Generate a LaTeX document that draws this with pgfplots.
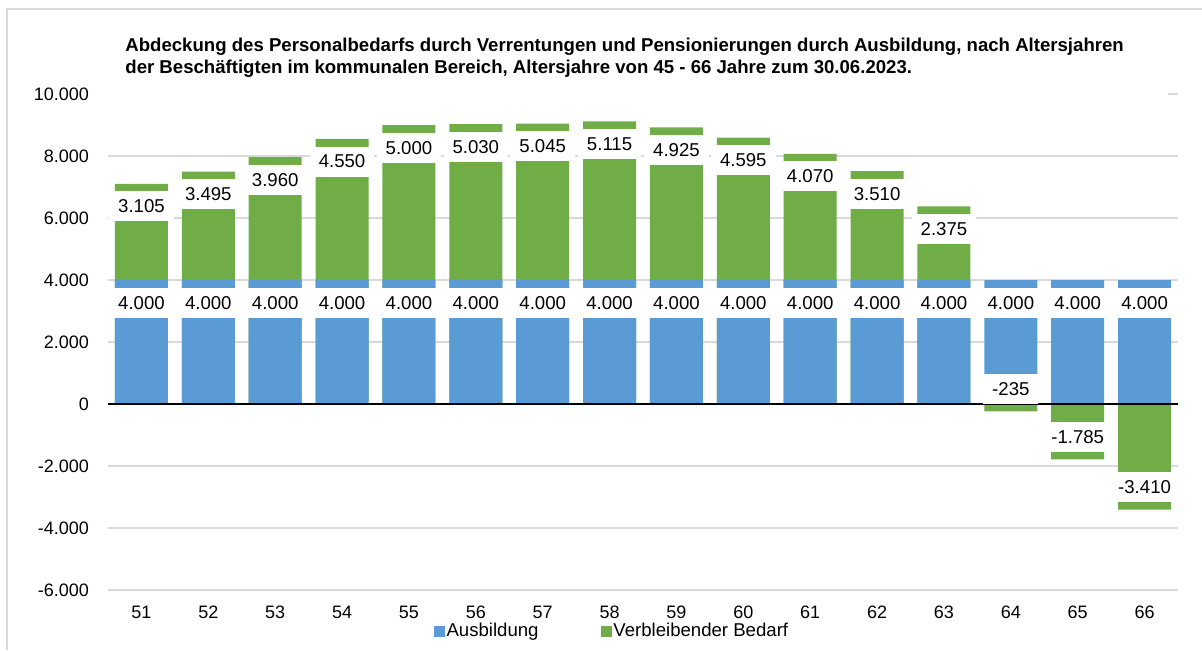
\documentclass[border=0pt]{standalone}
\usepackage{pgfplots}
\pgfplotsset{compat=1.18}
\usepackage{pgfplotstable}
\usepackage{fontspec}
\setmainfont{Liberation Sans}
\definecolor{bblue}{HTML}{5B9BD5}
\definecolor{bgreen}{HTML}{70AD47}
\definecolor{gridgray}{HTML}{D9D9D9}

% Altersjahr, Ausbildung, verbleibender Bedarf
\pgfplotstableread{
alter ausb bedarf
51 4000 3105
52 4000 3495
53 4000 3960
54 4000 4550
55 4000 5000
56 4000 5030
57 4000 5045
58 4000 5115
59 4000 4925
60 4000 4595
61 4000 4070
62 4000 3510
63 4000 2375
64 4000 -235
65 4000 -1785
66 4000 -3410
}\datatable

\begin{document}
\begin{tikzpicture}
  \useasboundingbox (0,0) rectangle (601pt,325pt);
  \draw[gridgray, line width=0.75pt] (3.5pt,0) -- (3.5pt,320.5pt) -- (601pt,320.5pt);
  \begin{axis}[
    at={(54pt,30pt)}, anchor=south west,
    scale only axis,
    width=535pt, height=248pt,
    xmin=50.5, xmax=66.5,
    ymin=-6000, ymax=10000,
    ybar, bar width=26.5pt, bar shift=0pt,
    axis line style={draw=none},
    major tick length=0pt,
    xtick={51,...,66},
    ytick={-6000,-4000,...,10000},
    yticklabels={-6.000,-4.000,-2.000,0,2.000,4.000,6.000,8.000,10.000},
    scaled y ticks=false,
    ymajorgrids,
    grid style={gridgray, line width=0.75pt},
    tick label style={font=\fontsize{9}{10}\selectfont},
    yticklabel style={xshift=-6pt},
    xticklabel style={yshift=-4.4pt},
    /pgf/number format/1000 sep={.},
    /pgf/number format/assume math mode=true,
    point meta=explicit,
    every node near coord/.append style={
      font=\fontsize{9.3}{10}\selectfont, fill=white, text=black,
      inner xsep=4.5pt, inner ysep=0pt, minimum height=15pt},
    legend columns=2,
    legend style={
      at={(0.471,-0.083)}, anchor=center, draw=none, fill=none,
      font=\fontsize{9.3}{10}\selectfont,
      nodes={inner xsep=1pt},
      /tikz/every even column/.append style={column sep=30pt}},
  ]
    \addlegendimage{legend image code/.code={\fill[bblue] (0pt,-2.5pt) rectangle (5pt,2.5pt);}}
    \addlegendentry{Ausbildung}
    \addlegendimage{legend image code/.code={\fill[bgreen] (0pt,-2.5pt) rectangle (5pt,2.5pt);}}
    \addlegendentry{Verbleibender Bedarf}

    % Verbleibender Bedarf (positiv), auf Ausbildung gestapelt
    \addplot[forget plot, fill=bgreen, draw=none,
      restrict x to domain=51:63,
      nodes near coords, every node near coord/.append style={yshift=-19pt}]
      table[x=alter, y expr=\thisrow{ausb}+\thisrow{bedarf}, meta=bedarf] {\datatable};
    % Ausbildung
    \addplot[forget plot, fill=bblue, draw=none,
      nodes near coords, every node near coord/.append style={yshift=-19pt}]
      table[x=alter, y=ausb, meta=ausb] {\datatable};
    % Verbleibender Bedarf (negativ)
    \addplot[forget plot, fill=bgreen, draw=none,
      restrict x to domain=64:66,
      nodes near coords, every node near coord/.append style={yshift=19pt}]
      table[x=alter, y=bedarf, meta=bedarf] {\datatable};

    \draw[black, line width=0.75pt] (axis cs:50.5,0) -- (axis cs:66.5,0);
  \end{axis}
  % obere Gitterlinie wird vom Titelbereich verdeckt
  \draw[white, line width=1.5pt] (53pt,278pt) -- (584pt,278pt);
  \node[anchor=base west, inner sep=0pt,
    font=\fontsize{9.3}{11}\selectfont\bfseries] at (62.5pt,299.25pt)
    {Abdeckung des Personalbedarfs durch Verrentungen und Pensionierungen durch Ausbildung, nach Altersjahren};
  \node[anchor=base west, inner sep=0pt,
    font=\fontsize{9.3}{11}\selectfont\bfseries] at (62.5pt,288.25pt)
    {der Beschäftigten im kommunalen Bereich, Altersjahre von 45 - 66 Jahre zum 30.06.2023.};
\end{tikzpicture}
\end{document}
